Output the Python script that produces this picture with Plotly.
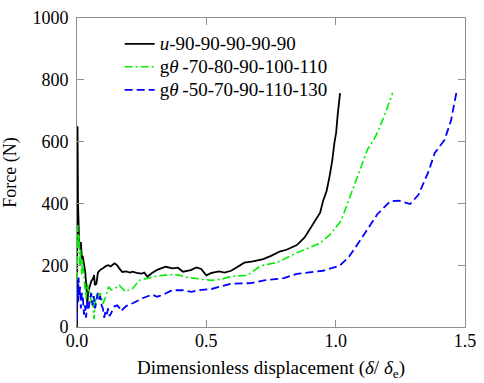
import plotly.graph_objects as go

# ---- data ----
u_x = [0, 0.002, 0.004, 0.008, 0.012, 0.015, 0.019, 0.022, 0.027, 0.032,
       0.037, 0.040, 0.043, 0.05, 0.056, 0.062, 0.066, 0.069, 0.075, 0.081,
       0.09, 0.1, 0.113, 0.122, 0.13, 0.145, 0.155, 0.165, 0.175, 0.19,
       0.205, 0.215, 0.23, 0.25, 0.26, 0.272, 0.29, 0.31, 0.342, 0.37,
       0.39, 0.41, 0.44, 0.462, 0.48, 0.5, 0.52, 0.55, 0.57, 0.596,
       0.62, 0.647, 0.68, 0.72, 0.75, 0.786, 0.81, 0.837, 0.85, 0.88,
       0.913, 0.94, 0.951, 0.965, 0.977, 0.987, 0.995, 1.002, 1.008, 1.013,
       1.017]
u_y = [0, 650, 400, 281, 250, 275, 220, 230, 200, 177,
       120, 73, 114, 136, 150, 156, 168, 136, 140, 177,
       185, 190, 198, 200, 196, 206, 200, 188, 178, 180,
       176, 179, 175, 173, 176, 163, 175, 185, 195, 190,
       192, 179, 184, 193, 188, 167, 175, 180, 176, 182,
       195, 208, 212, 220, 230, 245, 250, 261, 265, 290,
       334, 370, 407, 440, 490, 540, 595, 630, 689, 720,
       757]

g1_x = [0, 0.003, 0.005, 0.008, 0.011, 0.014, 0.018, 0.022, 0.027, 0.031,
        0.035, 0.04, 0.045, 0.05, 0.055, 0.06, 0.066, 0.069, 0.075, 0.081,
        0.09, 0.1, 0.11, 0.122, 0.132, 0.145, 0.155, 0.164, 0.176, 0.189,
        0.2, 0.215, 0.24, 0.278, 0.31, 0.342, 0.37, 0.392, 0.43, 0.469,
        0.52, 0.56, 0.596, 0.659, 0.71, 0.773, 0.85, 0.939, 0.977, 1.021,
        1.053, 1.091, 1.123, 1.154, 1.186, 1.22]
g1_y = [100, 330, 260, 300, 200, 250, 170, 210, 155, 120,
        92, 140, 110, 114, 80, 100, 25, 73, 104, 93,
        110, 75, 95, 130, 120, 124, 130, 135, 124, 114,
        120, 124, 151, 158, 165, 168, 170, 168, 160, 156,
        151, 155, 164, 167, 198, 209, 240, 271, 298, 344,
        417, 501, 574, 616, 679, 757]

g2_x = [0, 0.002, 0.004, 0.006, 0.009, 0.012, 0.015, 0.019, 0.023, 0.027,
        0.031, 0.035, 0.04, 0.045, 0.05, 0.055, 0.06, 0.065, 0.07, 0.075,
        0.08, 0.085, 0.09, 0.095, 0.1, 0.105, 0.11, 0.115, 0.12, 0.126,
        0.135, 0.145, 0.155, 0.164, 0.17, 0.189, 0.215, 0.253, 0.29, 0.31,
        0.335, 0.367, 0.41, 0.443, 0.469, 0.52, 0.596, 0.672, 0.723, 0.8,
        0.85, 0.951, 1.015, 1.053, 1.104, 1.161, 1.211, 1.243, 1.288, 1.32,
        1.358, 1.383, 1.421, 1.446, 1.468]
g2_y = [20, 150, 80, 160, 100, 130, 60, 110, 90, 40,
        70, 30, 80, 60, 90, 110, 70, 100, 60, 80,
        110, 90, 100, 70, 60, 30, 50, 40, 60, 35,
        50, 67, 70, 62, 51, 67, 77, 93, 105, 98,
        105, 119, 119, 114, 119, 123, 140, 142, 151, 158,
        172, 182, 198, 229, 292, 365, 407, 409, 398, 428,
        501, 563, 606, 668, 764]

names = ["<i>u</i>-90-90-90-90-90",
         "g<i>θ</i>\u2009-70-80-90-100-110",
         "g<i>θ</i>\u2009-50-70-90-110-130"]

x_ticks = [0, 0.5, 1.0, 1.5]
x_ticklabels = ["0.0", "0.5", "1.0", "1.5"]
y_ticks = [0, 200, 400, 600, 800, 1000]

FONT = "Liberation Serif"
FRAME = "#8f8f8f"


def big(t):
    return '<span style="font-size:19px">' + t + '</span>'


fig = go.Figure()
fig.add_trace(go.Scatter(x=u_x, y=u_y, mode="lines", name=big(names[0]),
                         line=dict(color="black", width=1.8)))
fig.add_trace(go.Scatter(x=g1_x, y=g1_y, mode="lines", name=big(names[1]),
                         line=dict(color="#00ee00", width=1.6, dash="8px,3px,2px,3px")))
fig.add_trace(go.Scatter(x=g2_x, y=g2_y, mode="lines", name=big(names[2]),
                         line=dict(color="#0000ff", width=1.8, dash="8px,4px")))

axis_common = dict(showgrid=False, zeroline=False, showline=True, linecolor=FRAME,
                   linewidth=1, mirror="allticks", ticks="inside", ticklen=7,
                   tickcolor=FRAME, tickwidth=1, ticklabeloverflow="allow",
                   tickfont=dict(family=FONT, size=18, color="black"))

fig.update_layout(
    width=484, height=383,
    margin=dict(l=77, r=13, t=8, b=56),
    paper_bgcolor="white", plot_bgcolor="white",
    font=dict(family=FONT, size=18, color="black"),
    showlegend=True,
    legend=dict(x=0.11, y=0.97, xanchor="left", yanchor="top",
                bgcolor="rgba(0,0,0,0)", borderwidth=0,
                font=dict(family=FONT, size=15.4, color="black"),
                tracegroupgap=0, itemwidth=30),
    xaxis=dict(range=[0, 1.5], tickvals=x_ticks, ticktext=x_ticklabels,
               title=dict(text="Dimensionless displacement (<i>δ</i>/ <i>δ</i><sub>e</sub>)",
                          font=dict(family=FONT, size=19), standoff=11),
               ticklabelstandoff=-3,
               **axis_common),
    yaxis=dict(range=[0, 1000], tickvals=y_ticks,
               title=dict(text="Force (N)", font=dict(family=FONT, size=18), standoff=11),
               ticklabelstandoff=4,
               **axis_common),
)

fig.write_html("out.html", config={"displayModeBar": False},
               post_script="document.body.style.margin='0';")
